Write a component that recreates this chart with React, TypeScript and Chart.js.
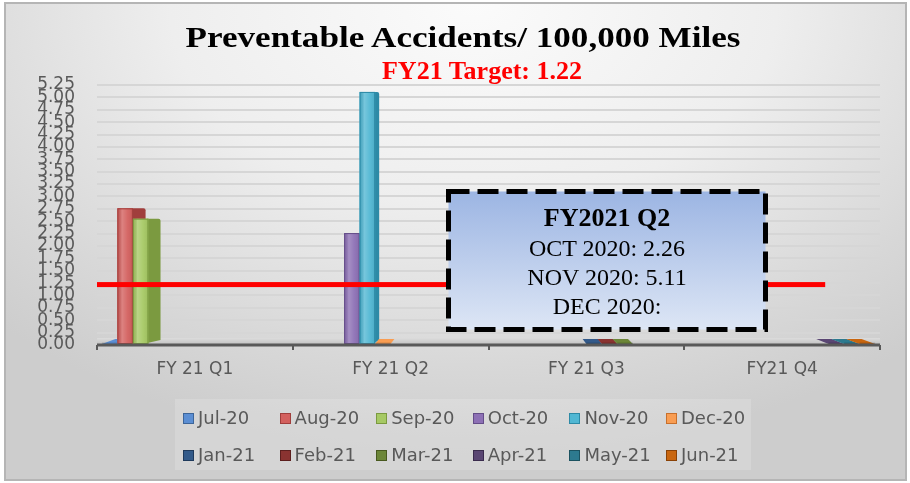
import React, { useEffect, useRef } from "react";
import { Chart, registerables } from "chart.js";

Chart.register(...registerables);

// ---------- data ----------
const quarters = ["FY 21 Q1", "FY 21 Q2", "FY 21 Q3", "FY21 Q4"];
const months = [
  "Jul-20", "Aug-20", "Sep-20", "Oct-20", "Nov-20", "Dec-20",
  "Jan-21", "Feb-21", "Mar-21", "Apr-21", "May-21", "Jun-21",
];
const monthValues = [0, 2.76, 2.55, 2.26, 5.11, 0, 0, 0, 0, 0, 0, 0];
const monthQuarter = [0, 0, 0, 1, 1, 1, 2, 2, 2, 3, 3, 3];
const target = 1.22;
const yMax = 5.25;
const yStep = 0.25;

const titleText = "Preventable Accidents/ 100,000 Miles";
const subtitleText = `FY21 Target: ${target.toFixed(2)}`;
const boxTitle = "FY2021 Q2";
const boxLines = [
  `OCT 2020: ${monthValues[3].toFixed(2)}`,
  `NOV 2020: ${monthValues[4].toFixed(2)}`,
  "DEC 2020:",
];

// ---------- styles ----------
const frontColors = [
  "#5b8ed3", "#d3605e", "#a6c964", "#8d70b5", "#51b7d3", "#f99d52",
  "#335a8a", "#8a3331", "#6c8638", "#5a4673", "#2d7a8f", "#c9660f",
];
const sideColors = [
  "#3d6599", "#a03e3c", "#7b9a40", "#644d88", "#2d8aa6", "#c8702c",
  "#1f3a5c", "#5c1f1e", "#48591f", "#3a2b4d", "#1b5260", "#8a4206",
];
const axisGray = "#595959";
const sansFont = "'DejaVu Sans', 'Noto Sans', sans-serif";
const serifFont = "'Liberation Serif', 'Times New Roman', serif";

const depthPlugin = {
  id: "depth3d",
  beforeDatasetsDraw(chart: any) {
    const { ctx, chartArea: a } = chart;
    ctx.save();
    const g = ctx.createLinearGradient(0, a.bottom - 7, 0, a.bottom);
    g.addColorStop(0, "#dcdcdc");
    g.addColorStop(1, "#c0c0c0");
    ctx.fillStyle = g;
    ctx.fillRect(a.left, a.bottom - 7, a.right - a.left, 7);
    ctx.restore();
  },
  afterDatasetsDraw(chart: any) {
    const { ctx, chartArea: a } = chart;
    const cx = (a.left + a.right) / 2;
    const k = 0.0357;
    ctx.save();
    chart.data.datasets.forEach((ds: any, di: number) => {
      const meta = chart.getDatasetMeta(di);
      meta.data.forEach((el: any, i: number) => {
        const v = ds.data[i];
        if (v === null || v === undefined) return;
        const { x, y, base, width } = el.getProps(["x", "y", "base", "width"], true);
        const left = x - width / 2;
        const right = x + width / 2;
        if (v > 0) {
          // side face (depth)
          const d = Math.max(3, (cx - right) * k);
          ctx.fillStyle = sideColors[di];
          ctx.beginPath();
          ctx.moveTo(right - 1, y);
          ctx.lineTo(right + d - 2, y);
          ctx.quadraticCurveTo(right + d, y, right + d, y + 2);
          ctx.lineTo(right + d, base - 4);
          ctx.lineTo(right - 1, base - 1);
          ctx.closePath();
          ctx.fill();
          // front face
          ctx.fillStyle = frontColors[di];
          ctx.fillRect(left, y, width, base - y);
          const hg = ctx.createLinearGradient(left, 0, right, 0);
          hg.addColorStop(0, "rgba(0,0,0,0.06)");
          hg.addColorStop(0.3, "rgba(255,255,255,0.22)");
          hg.addColorStop(0.65, "rgba(255,255,255,0.06)");
          hg.addColorStop(1, "rgba(0,0,0,0.06)");
          ctx.fillStyle = hg;
          ctx.fillRect(left, y, width, base - y);
          ctx.strokeStyle = sideColors[di];
          ctx.lineWidth = 1;
          ctx.strokeRect(left + 0.5, y + 0.5, width - 1, base - y - 1);
        } else {
          // zero value: flat sliver on the floor
          const d = (cx - x) * k;
          ctx.fillStyle = frontColors[di];
          ctx.beginPath();
          ctx.moveTo(left, base - 1);
          ctx.lineTo(right, base - 1);
          ctx.lineTo(right + d, base - 6);
          ctx.lineTo(left + d, base - 6);
          ctx.closePath();
          ctx.fill();
          ctx.fillStyle = "rgba(0,0,0,0.15)";
          ctx.fillRect(left, base - 2.5, width, 1.5);
        }
      });
    });
    // axis line
    ctx.fillStyle = axisGray;
    ctx.fillRect(a.left, a.bottom - 1.5, a.right - a.left, 3);
    // target line
    const yPix = chart.scales.y.getPixelForValue(target);
    const endX = a.left + (a.right - a.left) * 0.93;
    ctx.fillStyle = "#ff0000";
    ctx.fillRect(a.left, yPix - 2.5, endX - a.left, 5);
    ctx.restore();
  },
};

export default function App() {
  const ref = useRef<HTMLCanvasElement>(null);

  useEffect(() => {
    if (!ref.current) return;
    const datasets = months.map((m, i) => ({
      label: m,
      data: quarters.map((_, q) => (q === monthQuarter[i] ? monthValues[i] : null)),
      backgroundColor: frontColors[i],
      borderWidth: 0,
    }));
    const chart = new Chart(ref.current, {
      type: "bar",
      data: { labels: quarters, datasets },
      options: {
        animation: false,
        responsive: false,
        maintainAspectRatio: false,
        devicePixelRatio: 1,
        layout: { padding: { top: 85, right: 30, left: 0, bottom: 0 } },
        datasets: { bar: { categoryPercentage: 0.95, barPercentage: 1.0 } },
        plugins: {
          legend: { display: false },
          title: { display: false },
          tooltip: { enabled: false },
        },
        scales: {
          x: {
            grid: {
              display: true,
              drawOnChartArea: false,
              drawTicks: true,
              tickLength: 5,
              color: axisGray,
              lineWidth: 2,
              offset: true,
            },
            border: { display: false },
            ticks: {
              color: axisGray,
              font: { family: sansFont, size: 17 },
              padding: 9,
            },
            afterFit: (s: any) => {
              s.height = 138;
            },
          },
          y: {
            min: 0,
            max: yMax,
            ticks: {
              stepSize: yStep,
              autoSkip: false,
              color: axisGray,
              font: { family: sansFont, size: 17 },
              padding: 22,
              callback: (v: any) => Number(v).toFixed(2),
            },
            grid: { color: "#d6d6d6", lineWidth: 2, drawTicks: false },
            border: { display: false },
            afterFit: (s: any) => {
              s.width = 97;
            },
          },
        },
      },
      plugins: [depthPlugin],
    } as any);
    return () => chart.destroy();
  }, []);

  const colX = (c: number) => 183 + c * 96.6;
  const rowY = [418, 455];

  return (
    <div
      style={{
        position: "absolute",
        left: 0,
        top: 0,
        width: 910,
        height: 483,
        overflow: "hidden",
        background: "#ffffff",
      }}
    >
      <div
        style={{
          position: "absolute",
          left: 4,
          top: 2,
          width: 903,
          height: 479,
          boxSizing: "border-box",
          border: "2px solid #b5b5b5",
          background:
            "radial-gradient(ellipse 75% 95% at 52% 0%, #fbfbfb 0%, #eeeeee 45%, #d8d8d8 80%, #cdcdcd 100%)",
        }}
      />
      <div
        style={{
          position: "absolute",
          left: 175,
          top: 399,
          width: 576,
          height: 71,
          background: "rgba(255,255,255,0.16)",
        }}
      />
      <canvas
        ref={ref}
        width={910}
        height={483}
        style={{ position: "absolute", left: 0, top: 0, width: 910, height: 483 }}
      />
      <div
        style={{
          position: "absolute",
          left: 162.5,
          top: 23.2,
          width: 600,
          textAlign: "center",
          fontFamily: serifFont,
          fontWeight: "bold",
          fontSize: 29,
          lineHeight: "29px",
          color: "#000",
          whiteSpace: "nowrap",
          transform: "scaleX(1.21)",
        }}
      >
        {titleText}
      </div>
      <div
        style={{
          position: "absolute",
          left: 282,
          top: 58.2,
          width: 400,
          textAlign: "center",
          fontFamily: serifFont,
          fontWeight: "bold",
          fontSize: 26,
          lineHeight: "26px",
          color: "#ff0000",
          whiteSpace: "nowrap",
        }}
      >
        {subtitleText}
      </div>

      {/* annotation box */}
      <svg
        width={322}
        height={143}
        style={{ position: "absolute", left: 446, top: 189 }}
      >
        <defs>
          <linearGradient id="boxg" x1="0" y1="0" x2="0" y2="1">
            <stop offset="0" stopColor="#9cb5e3" />
            <stop offset="1" stopColor="#dde6f5" />
          </linearGradient>
        </defs>
        <rect
          x={2.5}
          y={2.5}
          width={317}
          height={138}
          fill="url(#boxg)"
          stroke="#000"
          strokeWidth={5}
          strokeDasharray="21 8"
        />
      </svg>
      <div
        style={{
          position: "absolute",
          left: 446,
          top: 205.2,
          width: 322,
          textAlign: "center",
          fontFamily: serifFont,
          fontWeight: "bold",
          fontSize: 26,
          lineHeight: "26px",
          color: "#000",
          whiteSpace: "nowrap",
        }}
      >
        {boxTitle}
      </div>
      {boxLines.map((t, i) => (
        <div
          key={t}
          style={{
            position: "absolute",
            left: 446,
            top: 235.9 + i * 28.8,
            width: 322,
            textAlign: "center",
            fontFamily: serifFont,
            fontSize: 24,
            lineHeight: "24px",
            color: "#000",
            whiteSpace: "nowrap",
          }}
        >
          {t}
        </div>
      ))}

      {/* legend */}
      {months.map((m, i) => {
        const c = i % 6;
        const r = Math.floor(i / 6);
        return (
          <div
            key={m}
            style={{
              position: "absolute",
              left: colX(c),
              top: rowY[r] - 11,
              height: 22,
              display: "flex",
              alignItems: "center",
              whiteSpace: "nowrap",
            }}
          >
            <span
              style={{
                display: "inline-block",
                width: 11,
                height: 11,
                boxSizing: "border-box",
                background: frontColors[i],
                border: `1px solid ${sideColors[i]}`,
                marginRight: 4,
              }}
            />
            <span
              style={{
                fontFamily: sansFont,
                fontSize: 18,
                lineHeight: "22px",
                color: axisGray,
              }}
            >
              {m}
            </span>
          </div>
        );
      })}
    </div>
  );
}
